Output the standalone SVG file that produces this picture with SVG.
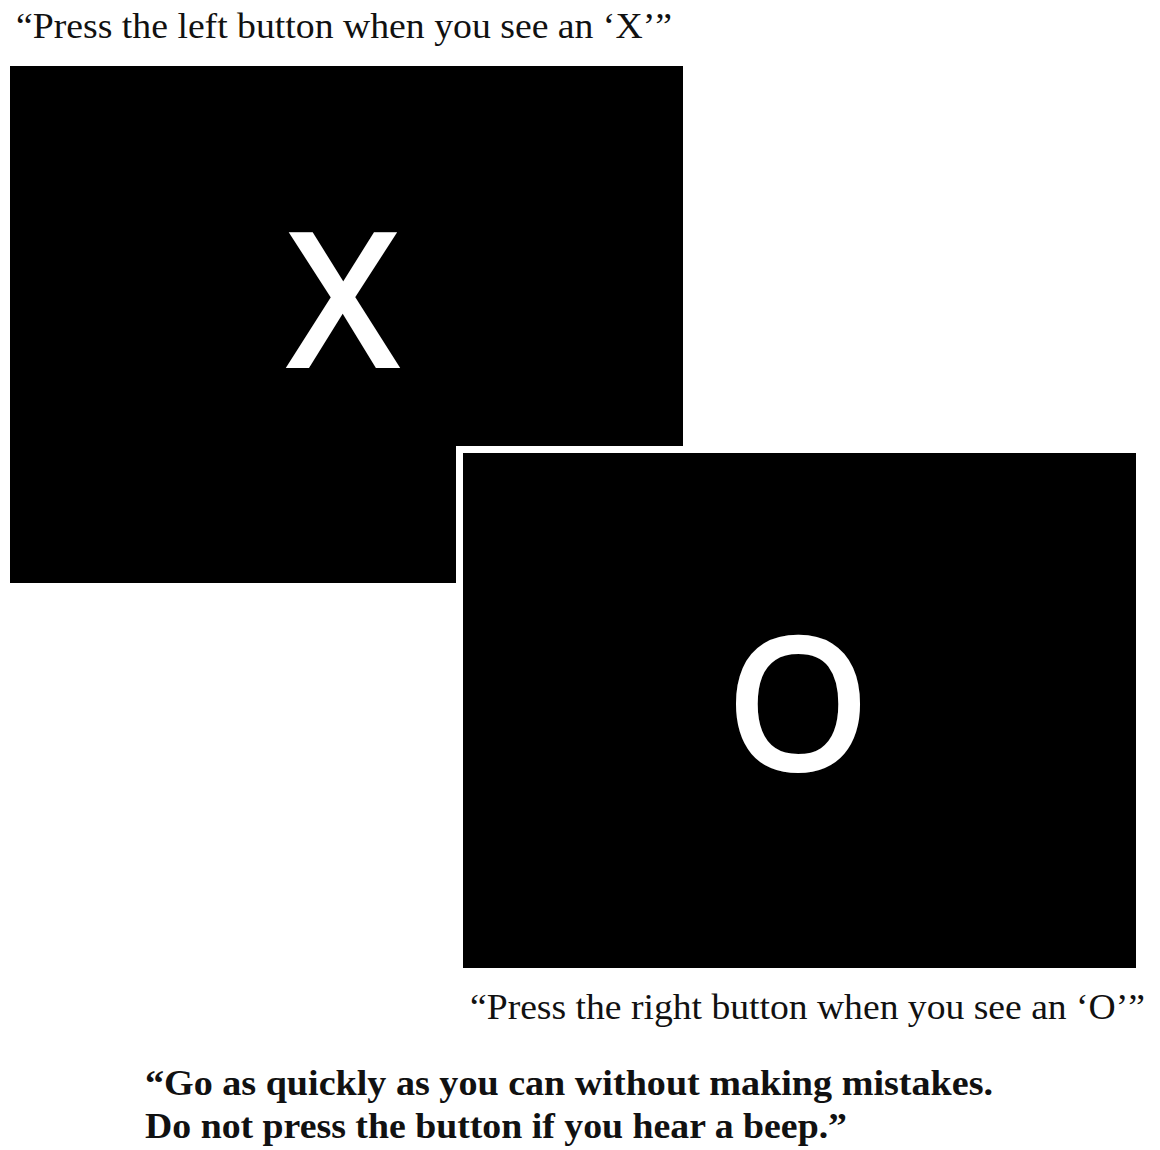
<svg xmlns="http://www.w3.org/2000/svg" width="1160" height="1150" viewBox="0 0 1160 1150">
<style>
.cap{font-family:"Liberation Serif","Times New Roman",serif;fill:#111}
.bold{font-family:"Liberation Serif","Times New Roman",serif;font-weight:bold;fill:#111}
.stim{font-family:"Open Sans","Liberation Sans",sans-serif;fill:#fff;stroke:#fff;stroke-width:6;stroke-linejoin:miter;text-anchor:middle}
</style>
<rect width="1160" height="1150" fill="#fff"/>
<g id="caption-left">
<text class="cap" x="16" y="38" font-size="35" textLength="656" lengthAdjust="spacingAndGlyphs">“Press the left button when you see an ‘X’”</text>
</g>
<g id="screen-x">
<rect x="10" y="66" width="673" height="517" fill="#000"/>
<text class="stim" x="343" y="365" font-size="181">X</text>
</g>
<g id="screen-o">
<rect x="456" y="446" width="687" height="529" fill="#fff"/>
<rect x="463" y="453" width="673" height="515" fill="#000"/>
<text class="stim" x="798" y="768" font-size="180">O</text>
</g>
<g id="caption-right">
<text class="cap" x="470" y="1019" font-size="35" textLength="675" lengthAdjust="spacingAndGlyphs">“Press the right button when you see an ‘O’”</text>
</g>
<g id="instructions">
<text class="bold" x="145" y="1095" font-size="35" textLength="848" lengthAdjust="spacingAndGlyphs">“Go as quickly as you can without making mistakes.</text>
<text class="bold" x="145" y="1138" font-size="35" textLength="702" lengthAdjust="spacingAndGlyphs">Do not press the button if you hear a beep.”</text>
</g>
<g id="connectors"/>
</svg>
